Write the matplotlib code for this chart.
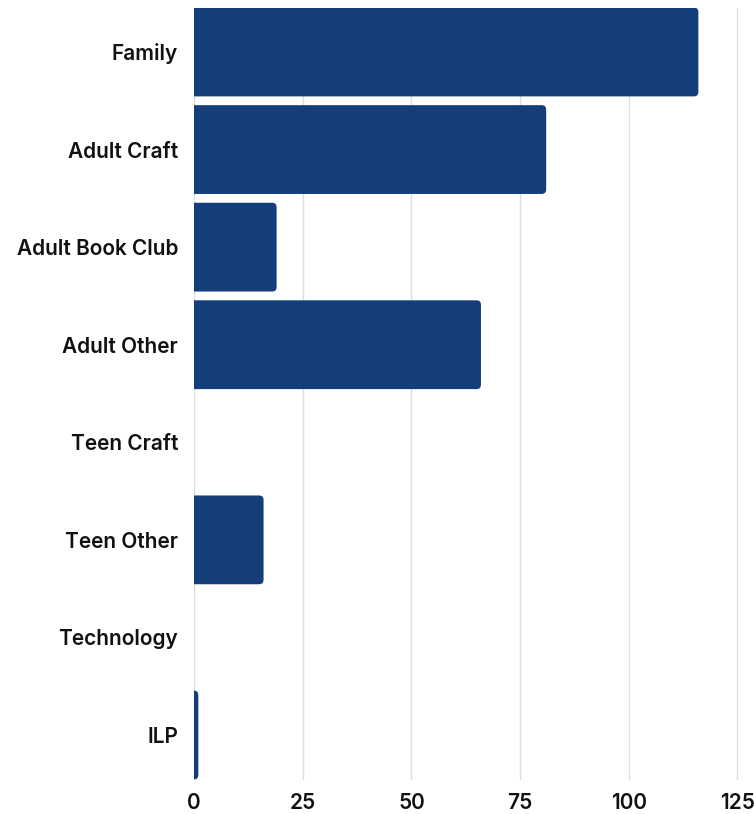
import matplotlib
matplotlib.use("Agg")
import matplotlib.pyplot as plt
from matplotlib.patches import FancyBboxPatch

categories = ["Family", "Adult Craft", "Adult Book Club", "Adult Other",
              "Teen Craft", "Teen Other", "Technology", "ILP"]
values = [116, 81, 19, 66, 0, 16, 0, 1]
x_ticks = [0, 25, 50, 75, 100, 125]

W, H, DPI = 754, 814, 100
BAR_COLOR = "#143E79"
FONT = ["Inter", "DejaVu Sans"]

fig = plt.figure(figsize=(W / DPI, H / DPI), dpi=DPI)
ax_left, ax_right = 194 / W, 1.0
ax_top, ax_bottom = 1 - 7.5 / H, 1 - 779.5 / H
ax = fig.add_axes([ax_left, ax_bottom, ax_right - ax_left, ax_top - ax_bottom])

xmax = 128.8
n = len(categories)
bar_h = 0.91
ax.set_xlim(0, xmax)
ax.set_ylim(n - 1 + 0.456, -0.456)

# pixels per data unit, used to keep the corner rounding circular
px_x = (ax_right - ax_left) * W / xmax
px_y = (ax_top - ax_bottom) * H / (2 * 0.456 + n - 1)
radius_px = 4.5
r = radius_px / px_x

for i, v in enumerate(values):
    if v <= 0:
        continue
    # extend left past zero so only the right corners show rounded
    patch = FancyBboxPatch((-2 * r, i - bar_h / 2), v + 2 * r, bar_h,
                           boxstyle=f"round,pad=0,rounding_size={r}",
                           mutation_aspect=px_x / px_y,
                           facecolor=BAR_COLOR, edgecolor="none", zorder=3)
    ax.add_patch(patch)

ax.set_yticks(range(n))
ax.set_yticklabels(categories)
ax.set_xticks(x_ticks)
ax.set_xticklabels([str(t) for t in x_ticks])
ax.grid(axis="x", color="#DDDDDD", linewidth=1.0, zorder=0)
ax.set_axisbelow(True)
for s in ax.spines.values():
    s.set_visible(False)
ax.tick_params(axis="both", length=0, labelsize=15, labelcolor="#111111")
ax.tick_params(axis="y", pad=11.5)
ax.tick_params(axis="x", pad=10)
for lab in ax.get_xticklabels() + ax.get_yticklabels():
    lab.set_family(FONT)
    lab.set_fontweight(600)

fig.savefig("out.png", dpi=DPI, facecolor="white")
